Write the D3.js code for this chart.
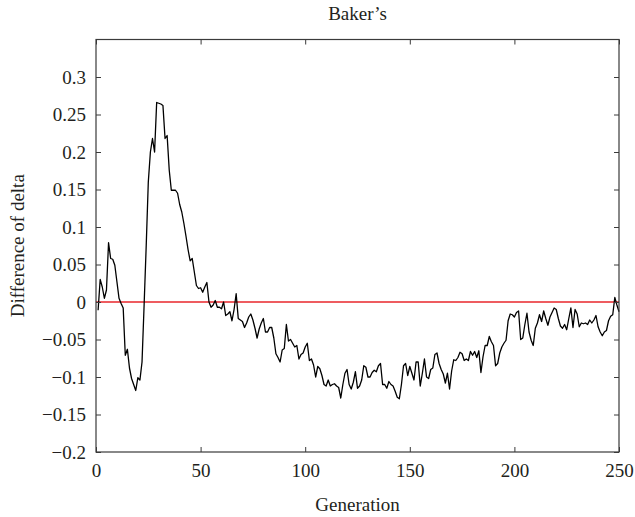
<!DOCTYPE html>
<html>
<head>
<meta charset="utf-8">
<script src="https://cdn.jsdelivr.net/npm/d3@7"></script>
<style>
  body { margin: 0; background: #fff; }
</style>
</head>
<body>
<svg id="chart" width="635" height="517"></svg>
<script>
// difference of delta per generation (generations 1..250)
const delta = [
  -0.011, 0.030, 0.020, 0.005, 0.016, 0.079, 0.058, 0.057, 0.049, 0.027,
  0.005, -0.002, -0.008, -0.071, -0.063, -0.088, -0.102, -0.110, -0.118, -0.101,
  -0.104, -0.080, -0.004, 0.075, 0.160, 0.200, 0.218, 0.200, 0.266, 0.265,
  0.264, 0.262, 0.218, 0.222, 0.176, 0.149, 0.149, 0.149, 0.145, 0.130,
  0.120, 0.105, 0.088, 0.070, 0.055, 0.058, 0.040, 0.022, 0.018, 0.019,
  0.013, 0.020, 0.026, 0.000, -0.007, -0.004, 0.002, -0.007, -0.007, -0.009,
  0.000, -0.018, -0.016, -0.013, -0.025, -0.010, 0.011, -0.022, -0.024, -0.026,
  -0.034, -0.028, -0.020, -0.016, -0.024, -0.035, -0.048, -0.036, -0.028, -0.022,
  -0.040, -0.040, -0.034, -0.034, -0.048, -0.069, -0.074, -0.080, -0.064, -0.062,
  -0.030, -0.052, -0.050, -0.055, -0.060, -0.058, -0.076, -0.070, -0.068, -0.060,
  -0.055, -0.078, -0.076, -0.084, -0.100, -0.086, -0.089, -0.098, -0.110, -0.112,
  -0.104, -0.112, -0.110, -0.109, -0.112, -0.114, -0.128, -0.110, -0.095, -0.090,
  -0.110, -0.116, -0.107, -0.093, -0.115, -0.112, -0.104, -0.085, -0.087, -0.100,
  -0.100, -0.094, -0.091, -0.093, -0.085, -0.082, -0.110, -0.110, -0.115, -0.106,
  -0.110, -0.112, -0.119, -0.127, -0.129, -0.110, -0.085, -0.082, -0.098, -0.086,
  -0.095, -0.104, -0.080, -0.080, -0.112, -0.095, -0.076, -0.100, -0.102, -0.090,
  -0.088, -0.070, -0.068, -0.082, -0.090, -0.096, -0.108, -0.095, -0.116, -0.092,
  -0.077, -0.078, -0.074, -0.067, -0.069, -0.078, -0.076, -0.078, -0.066, -0.071,
  -0.066, -0.074, -0.065, -0.094, -0.073, -0.058, -0.058, -0.046, -0.053, -0.058,
  -0.085, -0.082, -0.068, -0.060, -0.055, -0.051, -0.025, -0.016, -0.017, -0.020,
  -0.014, -0.012, -0.050, -0.048, -0.030, -0.015, -0.040, -0.051, -0.058, -0.035,
  -0.028, -0.017, -0.026, -0.012, -0.022, -0.031, -0.020, -0.014, -0.008, -0.010,
  -0.022, -0.032, -0.035, -0.030, -0.037, -0.022, -0.008, -0.034, -0.010, -0.016,
  -0.033, -0.028, -0.029, -0.028, -0.030, -0.024, -0.028, -0.024, -0.018, -0.033,
  -0.040, -0.045, -0.040, -0.038, -0.025, -0.019, -0.017, 0.006, -0.004, -0.013
];
const generations = d3.range(1, delta.length + 1);

const xTicks = [0, 50, 100, 150, 200, 250];
const yTicks = [-0.2, -0.15, -0.1, -0.05, 0, 0.05, 0.1, 0.15, 0.2, 0.25, 0.3];
const yTickLabels = ["\u22120.2", "\u22120.15", "\u22120.1", "\u22120.05", "0", "0.05", "0.1", "0.15", "0.2", "0.25", "0.3"];

var margin = {top: 39.5, right: 16, bottom: 65, left: 96};
var width = 635 - margin.left - margin.right;
var height = 517 - margin.top - margin.bottom;

var fontFam = "'Liberation Serif', 'Times New Roman', serif";
var textColor = "#231f20";

var svg = d3.select("#chart");
var g = svg.append("g")
    .attr("transform", "translate(" + margin.left + "," + margin.top + ")");

var x = d3.scaleLinear().domain([0, 250]).range([0, width]);
var y = d3.scaleLinear().domain([-0.2, 0.35]).range([height, 0]);

// zero reference line
g.append("path")
    .datum([0, 250])
    .attr("d", d3.line().x(d => x(d)).y(() => y(0)))
    .style("fill", "none")
    .style("stroke", "#e8262b")
    .style("stroke-width", "1.4px");

// the curve
var line = d3.line()
    .x((d, i) => x(generations[i]))
    .y(d => y(d));

g.append("path")
    .datum(delta)
    .attr("d", line)
    .style("fill", "none")
    .style("stroke", "#000")
    .style("stroke-width", "1.3px")
    .style("stroke-linejoin", "round");

// axes, ticks pointing inwards on all four sides
var axisColor = "#3a3a3a";
function styleAxis(sel) {
    sel.attr("font-family", fontFam).attr("font-size", 19);
    sel.select(".domain").remove();
    sel.selectAll(".tick line").attr("stroke", axisColor).attr("stroke-width", 1);
    sel.selectAll(".tick text").attr("fill", textColor);
}

g.append("g")
    .attr("transform", "translate(0," + height + ")")
    .call(d3.axisBottom(x).tickValues(xTicks).tickSize(-5).tickPadding(12).tickFormat(d3.format("d")))
    .call(styleAxis);

g.append("g")
    .call(d3.axisTop(x).tickValues(xTicks).tickSize(-5).tickFormat(""))
    .call(styleAxis);

g.append("g")
    .call(d3.axisLeft(y).tickValues(yTicks).tickSize(-5).tickPadding(10)
        .tickFormat((d, i) => yTickLabels[i]))
    .call(styleAxis);

g.append("g")
    .attr("transform", "translate(" + width + ",0)")
    .call(d3.axisRight(y).tickValues(yTicks).tickSize(-5).tickFormat(""))
    .call(styleAxis);

// frame
g.append("rect")
    .attr("width", width)
    .attr("height", height)
    .style("fill", "none")
    .style("stroke", axisColor)
    .style("stroke-width", "1.2px");

// labels
function label(txt) {
    return svg.append("text")
        .attr("text-anchor", "middle")
        .attr("font-family", fontFam)
        .attr("font-size", 19)
        .attr("fill", textColor)
        .text(txt);
}

label("Baker\u2019s")
    .attr("x", margin.left + width / 2)
    .attr("y", 20);

label("Generation")
    .attr("x", margin.left + width / 2)
    .attr("y", 511);

label("Difference of delta")
    .attr("transform", "translate(24," + (margin.top + height / 2) + ") rotate(-90)");
</script>
</body>
</html>
